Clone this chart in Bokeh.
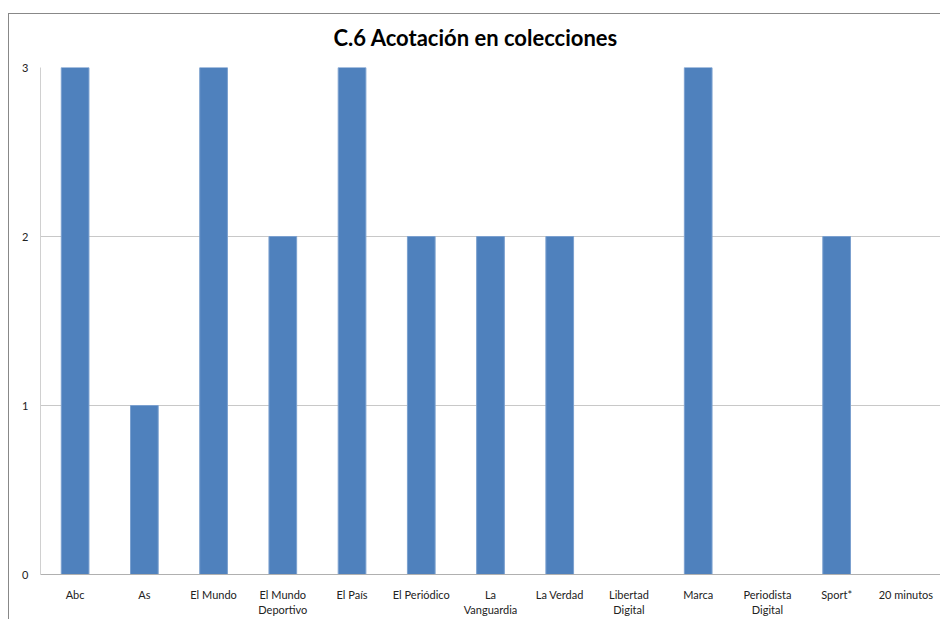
from bokeh.plotting import figure
from bokeh.models import Range1d, FactorRange, SingleIntervalTicker, ColumnDataSource
from bokeh.embed import file_html
from bokeh.resources import INLINE

categories = ["Abc", "As", "El Mundo", "El Mundo\nDeportivo", "El País", "El Periódico",
              "La\nVanguardia", "La Verdad", "Libertad\nDigital", "Marca",
              "Periodista\nDigital", "Sport*", "20 minutos"]
values = [3, 1, 3, 2, 3, 2, 2, 2, 0, 3, 0, 2, 0]
title_text = "C.6 Acotación en colecciones"

source = ColumnDataSource(data=dict(cat=categories, val=values))

p = figure(width=932, height=615, x_range=FactorRange(*categories, range_padding=0),
           y_range=Range1d(0, 3), output_backend="svg", toolbar_location=None,
           min_border_left=32, min_border_right=0, min_border_top=63, min_border_bottom=44)

p.vbar(x="cat", top="val", width=0.4, source=source, fill_color="#4F81BD",
       line_color="#7BA0CF", line_width=1)

p.title.text = title_text
p.title.align = "left"
p.title.text_font = "Lato"
p.title.text_font_size = "22px"
p.title.text_font_style = "bold"
p.title.text_color = "#000000"
p.title.offset = 293
p.title.standoff = 34

p.outline_line_color = None
p.background_fill_color = "white"
p.border_fill_color = None

p.yaxis.ticker = SingleIntervalTicker(interval=1)
p.yaxis.major_tick_line_color = None
p.yaxis.minor_tick_line_color = None
p.yaxis.axis_line_color = "#D0D0D0"
p.yaxis.major_label_text_font = "Lato"
p.yaxis.major_label_text_font_size = "11px"
p.yaxis.major_label_text_color = "#222222"
p.yaxis.major_label_standoff = 6

p.xaxis.major_tick_line_color = None
p.xaxis.minor_tick_line_color = None
p.xaxis.axis_line_color = "#B0B0B0"
p.xaxis.major_label_text_font = "Lato"
p.xaxis.major_label_text_font_size = "11px"
p.xaxis.major_label_text_color = "#222222"
p.xaxis.major_label_standoff = 7

p.xgrid.grid_line_color = None
p.ygrid.grid_line_color = "#C8C8C8"

p.styles = {
    "margin-top": "4px",
    "margin-left": "8px",
    "background-color": "white",
    "background-image": "linear-gradient(#888888, #888888), linear-gradient(#888888, #888888)",
    "background-size": "100% 1px, 1px calc(100% - 9px)",
    "background-position": "0 9px, 0 9px",
    "background-repeat": "no-repeat",
}

open("out.html", "w").write(file_html(p, INLINE))
